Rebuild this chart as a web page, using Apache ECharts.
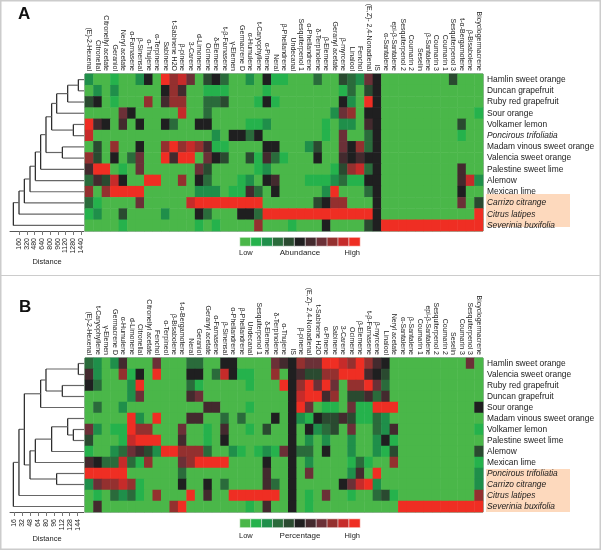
<!DOCTYPE html>
<html><head><meta charset="utf-8">
<style>html,body{margin:0;padding:0;background:#fff}#c{width:601px;height:550px}</style>
<script src="https://cdn.jsdelivr.net/npm/echarts@6/dist/echarts.min.js"></script>
</head><body><div id="c"></div>
<script>
const compoundsA = ['(E)-2-Hexenal','Citronellal','Citronellyl acetate','Geraniol','Neryl acetate','α-Farnasene','β-Sinensal','α-Thujene','α-Terpinene','Sabinene','t-Sabinene H2O','β-pinene','3-Carene','d-Limonene','Ocimene','δ-Elemene','t-β-Farnasene','γ-Elemen','Germacrene D','α-Humulene','t-Caryophyllene','α-Pinene','Neral','β-Phellandrene','Undecanal','Sesquiterpenol 1','α-Phellandrene','δ-Terpinolene','β-Elemene','Geranyl acetate','β-myrcene','Linalool','Fenchol','(E,Z)- 2,4-Nonadienal','IS','α-Santalene','epi-β-Santalene','Sesquiterpenol 2','Coumarin 2','Seselin','β-Santalene','Coumarin 3','Coumarin 1','Sesquiterpenol 3','t-α-Bergamotene','β-Bisabolene','Bicyclogermacrene'];
const compoundsB = ['(E)-2-Hexenal','t-Caryophyllene','γ-Elemen','Germacrene D','α-Humulene','d-Limonene','Citronellal','Citronellyl acetate','Fenchol','α-Terpineol','β-Bisabolene','t-α-Bergamotene','Neral','Geraniol','Geranyl acetate','α-Farnasene','β-Sinensal','α-Phellandrene','β-Phellandrene','Undecanal','Sesquiterpenol 1','δ-Elemene','δ-Terpinolene','α-Thujene','IS','β-pinene','(E,Z)- 2,4-Nonadienal','t-Sabinene H2O','α-Pinene','Sabinene','3-Carene','Ocimene','β-Elemene','t-β-Farnasene','β-myrcene','Linalool','Neryl acetate','α-Santalene','β-Santalene','Coumarin 1','epi-β-Santalene','Sesquiterpenol 2','Coumarin 2','Seselin','Coumarin 3','Sesquiterpenol 3','Bicyclogermacrene'];
const speciesA = ['Hamlin sweet orange','Duncan grapefruit','Ruby red grapefruit','Sour orange','Volkamer lemon','Poncirous trifoliatia','Madam vinous sweet orange','Valencia sweet orange','Palestine sweet lime','Alemow','Mexican lime','Carrizo citrange','Citrus latipes','Severinia buxifolia'];
const speciesB = ['Hamlin sweet orange','Valencia sweet orange','Ruby red grapefruit','Duncan grapefruit','Sour orange','Madam vinous sweet orange','Volkamer lemon','Palestine sweet lime','Alemow','Mexican lime','Poncirous trifoliatia','Carrizo citrange','Citrus latipes','Severinia buxifolia'];
const italics = ['Poncirous trifoliatia','Carrizo citrange','Citrus latipes','Severinia buxifolia'];
const palette = ['#4ab749','#25b24c','#1f8f4a','#2a6b3b','#2a4a30','#1f1f20','#432a2e','#6b3037','#94302f','#c62b2a','#ef2e23'];
const legendLevels = [0,1,2,3,4,5,6,7,8,9,10];

// each row: [compound index, colour level]; compounds not listed sit at level 0
const levelsA = [
 [[0,2],[3,1],[6,2],[7,5],[9,10],[10,8],[11,9],[12,7],[14,4],[15,5],[16,3],[19,2],[21,5],[22,1],[23,1],[27,3],[30,4],[31,3],[32,2],[33,7],[34,5],[43,4]],
 [[1,2],[3,2],[9,5],[10,8],[11,6],[14,1],[15,1],[16,1],[21,1],[30,1],[31,3],[33,4],[34,5]],
 [[0,4],[1,5],[3,1],[7,8],[9,6],[10,8],[11,8],[14,3],[15,3],[16,4],[20,1],[21,5],[22,1],[30,5],[31,2],[33,10],[34,5]],
 [[4,7],[5,5],[11,9],[14,3],[29,2],[30,7],[31,8],[33,5],[34,5],[46,1]],
 [[0,10],[1,6],[2,5],[4,6],[6,5],[9,5],[10,3],[13,5],[14,5],[19,1],[20,1],[21,2],[28,1],[30,2],[31,2],[33,6],[34,5],[44,4]],
 [[0,9],[15,2],[17,5],[18,5],[19,3],[20,5],[28,1],[30,7],[33,3],[34,5],[44,1]],
 [[1,4],[3,8],[6,5],[9,8],[10,10],[11,8],[12,9],[13,8],[14,6],[15,1],[16,1],[21,5],[22,5],[26,2],[27,4],[30,7],[31,5],[32,8],[33,3],[34,5]],
 [[0,8],[1,4],[3,5],[5,3],[6,7],[9,10],[10,6],[11,10],[12,10],[14,7],[15,5],[16,4],[19,4],[20,1],[21,6],[22,3],[23,1],[27,5],[30,6],[31,5],[32,6],[33,5],[34,5]],
 [[0,6],[1,10],[2,10],[4,1],[6,7],[13,7],[14,4],[20,1],[21,2],[29,1],[30,4],[31,8],[32,9],[33,3],[34,5],[44,6]],
 [[0,3],[1,6],[2,4],[3,9],[4,5],[7,10],[8,10],[11,8],[13,5],[14,3],[18,1],[19,2],[21,5],[22,6],[26,1],[27,1],[28,1],[29,2],[30,3],[31,1],[32,1],[33,5],[34,5],[44,6],[45,9],[46,2]],
 [[0,8],[2,8],[3,10],[4,10],[5,10],[6,10],[13,2],[14,2],[15,2],[17,1],[18,1],[19,6],[20,3],[22,5],[28,2],[29,10],[33,3],[34,5],[44,5]],
 [[0,3],[1,1],[6,7],[12,9],[13,10],[14,10],[15,10],[16,10],[17,10],[18,10],[19,10],[20,10],[27,4],[28,5],[29,8],[30,8],[34,5],[44,7],[46,4]],
 [[0,1],[1,2],[4,4],[9,2],[13,5],[14,3],[18,5],[19,5],[20,3],[21,10],[22,10],[23,10],[24,10],[25,10],[26,10],[27,10],[28,10],[29,10],[30,10],[31,10],[32,10],[33,10],[34,5],[46,10]],
 [[4,1],[13,1],[15,1],[20,8],[24,1],[28,5],[33,4],[34,5],[35,10],[36,10],[37,10],[38,10],[39,10],[40,10],[41,10],[42,10],[43,10],[44,10],[45,10],[46,10]]
];
const levelsB = [
 [[0,3],[1,2],[3,2],[4,6],[8,7],[12,3],[13,3],[16,5],[17,5],[22,7],[23,6],[24,5],[25,8],[26,7],[27,7],[28,10],[29,10],[30,9],[31,8],[32,10],[33,8],[34,6],[35,5],[45,7]],
 [[0,6],[1,2],[4,8],[5,1],[6,5],[8,10],[12,5],[13,5],[15,3],[16,9],[17,5],[18,1],[19,1],[22,8],[24,5],[25,6],[26,4],[27,4],[28,8],[29,8],[30,10],[31,10],[32,10],[33,6],[34,5],[35,4]],
 [[0,5],[1,3],[5,2],[6,10],[12,3],[13,1],[19,1],[23,10],[24,5],[25,8],[26,10],[27,7],[28,10],[29,7],[31,8],[32,8],[33,10],[34,7],[35,3]],
 [[5,2],[6,7],[12,6],[13,7],[24,5],[25,9],[26,10],[27,10],[28,6],[29,8],[31,4],[32,4],[33,6],[34,3],[35,6]],
 [[1,3],[4,2],[14,6],[15,6],[19,1],[24,5],[25,10],[26,7],[28,1],[29,1],[31,7],[32,1],[33,1],[34,10],[35,10],[36,10],[46,5]],
 [[5,10],[6,2],[8,10],[12,6],[13,6],[16,3],[18,3],[22,5],[24,5],[25,2],[26,1],[27,5],[28,4],[29,4],[30,6],[31,4],[32,1],[33,1],[34,3],[35,2]],
 [[0,7],[1,2],[3,1],[4,1],[5,10],[6,8],[7,8],[11,7],[14,1],[16,6],[19,1],[21,4],[24,5],[26,5],[27,2],[28,3],[29,4],[31,7],[34,3],[35,2],[36,6],[46,1]],
 [[0,4],[4,1],[5,9],[6,10],[7,10],[8,10],[11,6],[14,1],[16,5],[24,5],[26,2],[28,2],[31,2],[34,2],[35,5],[36,1]],
 [[0,1],[3,2],[4,3],[5,7],[6,6],[7,4],[8,2],[9,10],[10,10],[11,8],[12,8],[13,8],[14,3],[17,2],[18,1],[20,1],[21,2],[22,1],[23,7],[24,5],[25,3],[26,3],[28,5],[31,2],[34,2],[35,1],[36,4],[46,4]],
 [[0,6],[1,5],[2,3],[3,3],[4,9],[5,3],[6,1],[7,8],[11,7],[12,8],[13,10],[14,10],[15,10],[16,10],[21,5],[24,5],[26,2],[31,1],[32,3],[33,1],[36,8],[46,1]],
 [[0,10],[1,10],[2,10],[3,10],[4,10],[11,3],[21,6],[24,5],[26,7],[31,2],[32,6],[34,10],[46,2]],
 [[0,2],[1,7],[2,8],[3,8],[4,9],[5,8],[6,1],[11,5],[14,5],[16,3],[21,6],[22,3],[24,5],[30,5],[31,7],[32,9],[33,10],[34,2],[46,2]],
 [[1,1],[3,3],[4,2],[5,3],[6,1],[8,8],[12,10],[14,6],[17,10],[18,10],[19,10],[20,10],[21,10],[22,10],[24,5],[26,1],[28,7],[31,1],[34,3],[35,4],[36,1],[46,8]],
 [[1,6],[10,8],[11,10],[19,1],[21,6],[24,5],[26,1],[37,10],[38,10],[39,10],[40,10],[41,10],[42,10],[43,10],[44,10],[45,10],[46,10]]
];

// dendrograms: [child, child, distance]; child >= 0 is a row, child < 0 is merge -(child+1)
const mergesA = [[0,1,1385],[-1,2,1165],[-2,3,938],[4,5,1282],[-3,-4,834],[6,7,1055],[-5,-6,717],[-7,8,607],[-8,9,497],[-9,10,387],[-10,11,270],[-11,12,160],[-12,13,43]];
const mergesB = [[0,1,145.3],[2,3,113.1],[-1,-2,80.3],[-3,4,69.6],[6,7,135.3],[5,-5,123.9],[-6,8,91.7],[-7,9,58.9],[10,11,101.7],[-8,-9,48.2],[-4,-10,36.8],[-11,12,26],[-12,13,14.7]];
const distanceTicksA = [160,320,480,640,800,960,1120,1280,1440];
const distanceTicksB = [16,32,48,64,80,96,112,128,144];

const FONT = '"Liberation Sans", Arial, sans-serif';
function heatData(levels, nCols){
  const out = [];
  levels.forEach((row, r) => {
    const m = new Map(row);
    for (let c = 0; c < nCols; c++) out.push([c, r, m.has(c) ? m.get(c) : 0]);
  });
  return out;
}
function treeSegments(merges, leafDist){
  const nodes = [], segs = [];
  const get = k => k >= 0 ? {d: leafDist, y: k + 0.5} : nodes[-k - 1];
  merges.forEach(([a, b, d]) => {
    const A = get(a), B = get(b);
    segs.push([A.d, A.y, d, A.y, 0], [B.d, B.y, d, B.y, 0], [d, A.y, d, B.y, 1]);
    nodes.push({d, y: (A.y + B.y) / 2});
  });
  return segs;
}
function renderSeg(params, api){
  const p1 = api.coord([api.value(0), api.value(1)]);
  const p2 = api.coord([api.value(2), api.value(3)]);
  const vert = api.value(4) === 1;
  return {type: 'line', shape: {x1: p1[0], y1: p1[1], x2: p2[0], y2: p2[1]},
          style: {stroke: vert ? '#222' : '#666', lineWidth: 1.2}};
}
const panels = [
 {compounds: compoundsA, species: speciesA, levels: levelsA, merges: mergesA, ticks: distanceTicksA, dmin: -26, dmax: 1502, top: 74, h: 157, nameGap: 22,
  legendTop: 237.5, legendText: 'Abundance', textY: 253},
 {compounds: compoundsB, species: speciesB, levels: levelsB, merges: mergesB, ticks: distanceTicksB, dmin: 8, dmax: 156.7, top: 358, h: 154, nameGap: 20,
  legendTop: 519, legendText: 'Percentage', textY: 536}
];
const grid = [], xAxis = [], yAxis = [], series = [], graphic = [];
panels.forEach((p, i) => {
  const g = i * 3;
  // heat map
  grid.push({left: 85, top: p.top, width: 398, height: p.h, show: true, borderColor: '#3f6f48', borderWidth: 1, backgroundColor: 'transparent'});
  xAxis.push({type: 'category', gridIndex: g, position: 'top', data: p.compounds, axisLine: {show: false}, axisTick: {show: false}, splitLine: {show: false},
    axisLabel: {interval: 0, rotate: 90, fontSize: 7, margin: 3, color: '#222', fontFamily: FONT}});
  yAxis.push({type: 'category', gridIndex: g, position: 'right', inverse: true,
    data: p.species.map(s => ({value: s, textStyle: {fontStyle: italics.includes(s) ? 'italic' : 'normal'}})),
    axisLine: {show: false}, axisTick: {show: false}, splitLine: {show: false},
    axisLabel: {interval: 0, fontSize: 8.4, margin: 4, color: '#1a1a1a', fontFamily: FONT}});
  series.push({type: 'heatmap', xAxisIndex: g, yAxisIndex: g, data: heatData(p.levels, p.compounds.length), itemStyle: {borderWidth: 0}, emphasis: {disabled: true}, progressive: 0, animation: false});
  // dendrogram
  grid.push({left: 10, top: p.top, width: 74, height: p.h});
  xAxis.push({type: 'value', gridIndex: g + 1, min: p.dmin, max: p.dmax, position: 'bottom', splitLine: {show: false},
    axisLine: {show: true, onZero: false, lineStyle: {color: '#555', width: 1}},
    axisTick: {show: true, length: 4, customValues: p.ticks, lineStyle: {color: '#777'}},
    axisLabel: {customValues: p.ticks, rotate: 90, fontSize: 7, margin: 7, color: '#222', fontFamily: FONT, formatter: v => String(v)},
    name: 'Distance', nameLocation: 'middle', nameGap: p.nameGap, nameTextStyle: {fontSize: 7.5, color: '#222', fontFamily: FONT}});
  yAxis.push({type: 'value', gridIndex: g + 1, min: 0, max: 14, inverse: true, show: false});
  series.push({type: 'custom', xAxisIndex: g + 1, yAxisIndex: g + 1, clip: false, renderItem: renderSeg, data: treeSegments(p.merges, p.dmax), animation: false, silent: true});
  // colour key
  grid.push({left: 240, top: p.legendTop, width: 120, height: 8.5});
  xAxis.push({type: 'category', gridIndex: g + 2, data: legendLevels, show: false});
  yAxis.push({type: 'category', gridIndex: g + 2, data: ['key'], show: false});
  series.push({type: 'heatmap', xAxisIndex: g + 2, yAxisIndex: g + 2, data: legendLevels.map((l, k) => [k, 0, l]), itemStyle: {borderColor: '#fff', borderWidth: 0.6}, emphasis: {disabled: true}, animation: false});
  const txt = (x, t, align, size) => ({type: 'text', x, y: p.textY, style: {text: t, fill: '#222', fontFamily: FONT, fontSize: size, align, verticalAlign: 'middle'}});
  graphic.push(txt(239, 'Low', 'left', 7.5), txt(300, p.legendText, 'center', 8), txt(360, 'High', 'right', 7.5));
});
// highlighted rows behind the row names
graphic.push(
 {type: 'rect', z: -1, shape: {x: 486, y: 194, width: 84, height: 33}, style: {fill: '#fdd9bd'}},
 {type: 'rect', z: -1, shape: {x: 486, y: 469, width: 84, height: 43}, style: {fill: '#fdd9bd'}},
 {type: 'rect', z: -1, shape: {x: 0.75, y: 0.75, width: 599.5, height: 548.5}, style: {fill: 'none', stroke: '#ccc', lineWidth: 1.5}},
 {type: 'line', z: -1, shape: {x1: 0, y1: 275.5, x2: 601, y2: 275.5}, style: {stroke: '#ccc', lineWidth: 1.2}},
 {type: 'text', x: 18, y: 6, style: {text: 'A', fontFamily: FONT, fontWeight: 'bold', fontSize: 17, fill: '#111'}},
 {type: 'text', x: 19, y: 299, style: {text: 'B', fontFamily: FONT, fontWeight: 'bold', fontSize: 17, fill: '#111'}}
);
const chart = echarts.init(document.getElementById('c'), null, {renderer: 'canvas', width: 601, height: 550});
chart.setOption({
  animation: false, backgroundColor: '#fff', grid, xAxis, yAxis, series, graphic,
  visualMap: {type: 'piecewise', show: false, dimension: 2, seriesIndex: [0, 2, 3, 5],
    pieces: palette.map((c, i) => ({value: i, color: c}))}
});
</script></body></html>
